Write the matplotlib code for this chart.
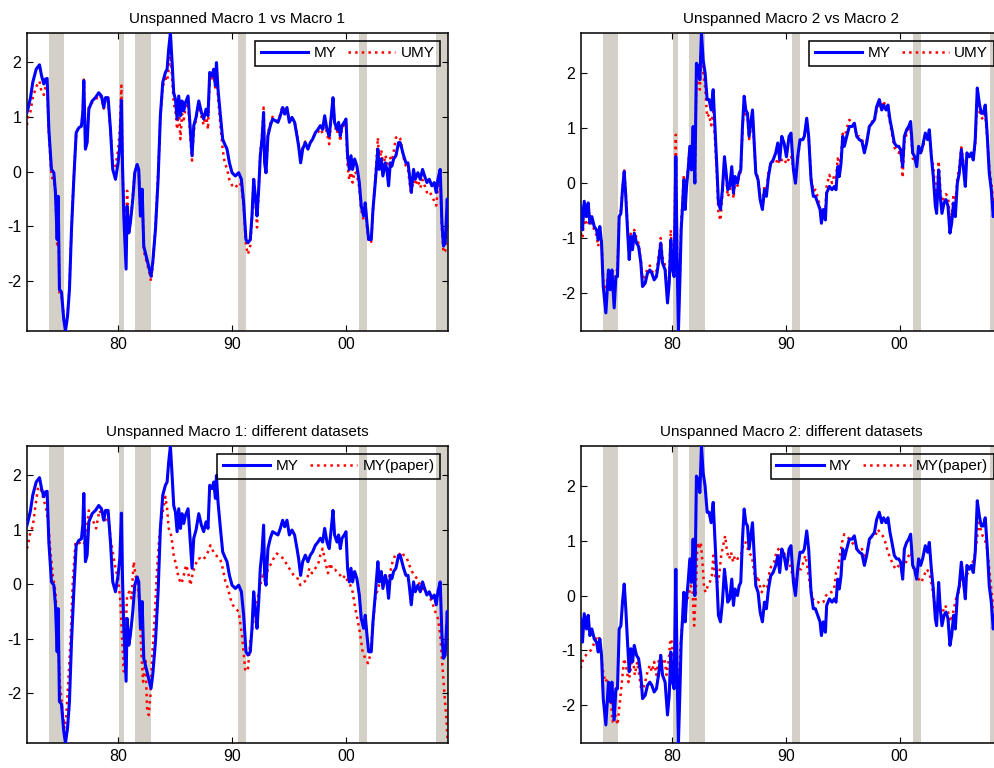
import matplotlib
matplotlib.use('Agg')
import matplotlib.pyplot as plt
from matplotlib.ticker import FuncFormatter

plt.rcParams['font.family'] = ['Liberation Sans', 'DejaVu Sans']
plt.rcParams['axes.unicode_minus'] = False

# NBER recessions (decimal years)
rec_start = [1973.92, 1980.06, 1981.52, 1990.56, 2001.17, 2007.92]
rec_end = [1975.29, 1980.56, 1982.89, 1991.26, 2001.87, 2009.50]

# ---- Macro 1 ----
t1 = [1972.00, 1972.08, 1972.31, 1972.51, 1972.81, 1973.10, 1973.28, 1973.48, 1973.63, 1973.77,
      1973.92, 1974.15, 1974.36, 1974.50, 1974.65, 1974.74, 1974.85, 1975.03, 1975.23, 1975.38,
      1975.56, 1975.73, 1975.91, 1976.11, 1976.32, 1976.55, 1976.78, 1976.90, 1976.99, 1977.13,
      1977.28, 1977.43, 1977.72, 1978.01, 1978.30, 1978.54, 1978.74, 1978.89, 1979.12, 1979.33,
      1979.53, 1979.77, 1980.00, 1980.15, 1980.29, 1980.38, 1980.50, 1980.70, 1980.79, 1980.94,
      1981.08, 1981.29, 1981.46, 1981.67, 1981.81, 1981.96, 1982.11, 1982.25, 1982.46, 1982.69,
      1982.89, 1983.04, 1983.28, 1983.51, 1983.71, 1983.92, 1984.15, 1984.30, 1984.44, 1984.59,
      1984.74, 1984.88, 1985.03, 1985.18, 1985.32, 1985.47, 1985.61, 1985.76, 1985.91, 1986.14,
      1986.35, 1986.49, 1986.64, 1986.84, 1987.08, 1987.31, 1987.51, 1987.72, 1987.89, 1988.04,
      1988.25, 1988.39, 1988.54, 1988.63, 1988.77, 1988.98, 1989.18, 1989.36, 1989.56, 1989.77,
      1990.00, 1990.29, 1990.58, 1990.82, 1991.02, 1991.22, 1991.40, 1991.60, 1991.75, 1991.90,
      1992.04, 1992.19, 1992.34, 1992.48, 1992.63, 1992.77, 1992.86, 1992.98, 1993.15, 1993.36,
      1993.56, 1993.80, 1994.03, 1994.24, 1994.44, 1994.62, 1994.82, 1995.03, 1995.26, 1995.49,
      1995.70, 1995.84, 1996.02, 1996.20, 1996.43, 1996.66, 1996.87, 1997.07, 1997.31, 1997.54,
      1997.75, 1997.95, 1998.13, 1998.33, 1998.53, 1998.71, 1998.86, 1999.00, 1999.21, 1999.35,
      1999.50, 1999.65, 1999.85, 2000.00, 2000.14, 2000.29, 2000.44, 2000.58, 2000.76, 2000.96,
      2001.17, 2001.34, 2001.55, 2001.69, 2001.84, 2001.99, 2002.22, 2002.37, 2002.57, 2002.80,
      2002.92, 2003.10, 2003.24, 2003.45, 2003.59, 2003.74, 2003.89, 2004.03, 2004.18, 2004.38,
      2004.62, 2004.76, 2004.91, 2005.06, 2005.26, 2005.44, 2005.55, 2005.73, 2005.93, 2006.08,
      2006.31, 2006.52, 2006.72, 2006.90, 2007.10, 2007.31, 2007.54, 2007.75, 2007.92, 2008.07,
      2008.27, 2008.42, 2008.56, 2008.71, 2008.89, 2008.95]

my1 = [1.08, 1.14, 1.35, 1.63, 1.87, 1.95, 1.75, 1.60, 1.69, 1.70,
       0.77, 0.04, -0.02, -0.38, -1.24, -0.45, -2.15, -2.20, -2.70, -2.91,
       -2.64, -2.15, -1.05, -0.14, 0.71, 0.80, 0.83, 1.08, 1.66, 0.41,
       0.53, 1.14, 1.29, 1.35, 1.44, 1.38, 1.17, 1.35, 1.35, 0.77,
       0.04, -0.14, 0.16, 0.47, 1.30, 0.16, -0.81, -1.78, -0.63, -1.12,
       -0.93, -0.50, -0.02, 0.13, 0.04, -0.81, -0.32, -1.36, -1.54, -1.73,
       -1.91, -1.66, -1.05, -0.14, 1.02, 1.63, 1.81, 1.87, 2.24, 2.53,
       1.99, 1.44, 1.32, 0.96, 1.38, 1.02, 1.29, 1.11, 1.26, 1.38,
       0.71, 0.29, 0.84, 0.99, 1.29, 1.08, 0.96, 1.14, 1.02, 1.81,
       1.75, 1.87, 1.57, 1.99, 1.50, 1.02, 0.59, 0.50, 0.41, 0.16,
       -0.02, -0.08, -0.02, -0.14, -0.57, -1.24, -1.30, -1.24, -0.81, -0.14,
       -0.45, -0.81, -0.32, 0.29, 0.59, 1.08, 0.16, -0.02, 0.65, 0.84,
       0.96, 0.93, 0.90, 1.02, 1.17, 1.05, 1.17, 0.90, 0.99, 0.90,
       0.65, 0.47, 0.16, 0.41, 0.53, 0.41, 0.53, 0.59, 0.71, 0.77,
       0.84, 0.77, 1.02, 0.77, 0.65, 1.02, 1.35, 0.90, 0.77, 0.90,
       0.65, 0.84, 0.90, 0.96, 0.29, 0.04, 0.29, 0.04, 0.23, 0.10,
       -0.20, -0.63, -0.81, -0.57, -0.93, -1.24, -1.24, -0.69, -0.20, 0.41,
       0.04, 0.23, -0.08, 0.16, 0.04, -0.26, 0.16, 0.10, 0.23, 0.29,
       0.53, 0.53, 0.41, 0.29, 0.16, 0.16, -0.02, -0.38, 0.04, -0.14,
       -0.02, -0.14, 0.04, -0.08, -0.20, -0.14, -0.26, -0.20, -0.38, -0.14,
       0.04, -0.93, -1.36, -1.30, -0.50, -0.90]

umy1 = [0.85, 1.00, 1.10, 1.35, 1.55, 1.65, 1.45, 1.40, 1.55, 1.60,
        0.70, -0.10, -0.15, -0.40, -1.33, -0.50, -2.21, -2.25, -2.67, -2.88,
        -2.64, -2.10, -1.00, -0.10, 0.70, 0.82, 0.85, 1.05, 1.68, 0.45,
        0.55, 1.20, 1.26, 1.30, 1.40, 1.35, 1.15, 1.30, 1.33, 0.75,
        0.15, 0.10, 0.40, 0.75, 1.57, 0.10, -0.65, -0.95, -0.35, -1.05,
        -0.90, -0.45, 0.00, 0.10, 0.02, -0.85, -0.35, -1.45, -1.62, -1.80,
        -2.00, -1.70, -1.00, -0.05, 1.00, 1.55, 1.70, 1.65, 1.87, 2.18,
        1.70, 1.25, 1.10, 0.77, 1.20, 0.59, 1.05, 0.95, 1.15, 1.25,
        0.60, 0.20, 0.75, 0.95, 1.25, 1.00, 0.85, 1.05, 0.77, 1.75,
        1.70, 1.80, 1.50, 1.80, 1.35, 0.85, 0.40, 0.16, 0.05, -0.15,
        -0.25, -0.30, -0.20, -0.25, -0.65, -1.35, -1.51, -1.35, -0.85, -0.10,
        -0.50, -1.02, -0.30, 0.35, 0.65, 1.17, 0.20, -0.05, 0.70, 0.88,
        1.00, 0.95, 0.92, 1.05, 1.20, 1.08, 1.15, 0.92, 0.98, 0.92,
        0.68, 0.50, 0.22, 0.45, 0.55, 0.45, 0.52, 0.60, 0.70, 0.72,
        0.78, 0.70, 0.95, 0.70, 0.50, 0.95, 1.30, 0.85, 0.70, 0.85,
        0.55, 0.80, 0.85, 0.90, 0.10, -0.15, 0.05, -0.20, 0.00, -0.05,
        -0.30, -0.70, -0.88, -0.65, -1.00, -1.30, -1.28, -0.70, -0.15, 0.62,
        0.15, 0.40, 0.05, 0.30, 0.20, -0.10, 0.25, 0.20, 0.35, 0.62,
        0.65, 0.60, 0.45, 0.25, 0.10, 0.05, -0.15, -0.42, -0.10, -0.25,
        -0.15, -0.30, -0.15, -0.25, -0.38, -0.35, -0.45, -0.54, -0.62, -0.30,
        -0.05, -1.05, -1.48, -1.45, -0.70, -1.05]

tp1 = [1972.00, 1972.08, 1972.31, 1972.51, 1972.75, 1972.98, 1973.19, 1973.48, 1973.68, 1973.86,
       1974.06, 1974.27, 1974.50, 1974.71, 1974.88, 1975.09, 1975.29, 1975.44, 1975.61, 1975.82,
       1976.02, 1976.26, 1976.55, 1976.84, 1977.13, 1977.43, 1977.72, 1978.07, 1978.36, 1978.60,
       1978.83, 1979.12, 1979.33, 1979.53, 1979.77, 1980.00, 1980.20, 1980.35, 1980.50, 1980.64,
       1980.79, 1980.99, 1981.17, 1981.37, 1981.52, 1981.67, 1981.87, 1982.05, 1982.19, 1982.40,
       1982.54, 1982.69, 1982.84, 1982.98, 1983.22, 1983.42, 1983.63, 1983.86, 1984.15, 1984.30,
       1984.44, 1984.59, 1984.74, 1984.88, 1985.09, 1985.32, 1985.56, 1985.76, 1985.97, 1986.14,
       1986.35, 1986.55, 1986.78, 1987.02, 1987.22, 1987.43, 1987.66, 1987.89, 1988.10, 1988.30,
       1988.54, 1988.77, 1988.98, 1989.18, 1989.42, 1989.65, 1989.85, 1990.06, 1990.29, 1990.58,
       1990.87, 1991.17, 1991.40, 1991.60, 1991.90, 1992.19, 1992.48, 1992.69, 1992.92, 1993.15,
       1993.36, 1993.65, 1993.94, 1994.24, 1994.53, 1994.82, 1995.11, 1995.41, 1995.70, 1995.99,
       1996.28, 1996.58, 1996.78, 1997.01, 1997.31, 1997.54, 1997.75, 1997.95, 1998.18, 1998.42,
       1998.62, 1998.83, 1999.06, 1999.30, 1999.50, 1999.70, 1999.94, 2000.17, 2000.38, 2000.58,
       2000.82, 2001.05, 2001.25, 2001.46, 2001.69, 2001.93, 2002.13, 2002.34, 2002.57, 2002.80,
       2003.01, 2003.21, 2003.45, 2003.68, 2003.89, 2004.09, 2004.32, 2004.62, 2004.91, 2005.14,
       2005.35, 2005.55, 2005.79, 2006.02, 2006.23, 2006.52, 2006.72, 2006.96, 2007.25, 2007.54,
       2007.83, 2008.07, 2008.27, 2008.48, 2008.65, 2008.83, 2008.95]

myp1 = [0.65, 0.71, 0.96, 1.05, 1.44, 1.78, 1.75, 1.54, 1.38, 1.14,
        0.59, 0.16, -0.14, -0.93, -1.79, -2.27, -2.64, -2.46, -1.85, -1.05,
        0.04, 0.77, 0.77, 0.71, 0.77, 1.35, 1.20, 1.02, 1.35, 1.26,
        1.14, 1.29, 0.84, 0.59, 0.29, 0.10, -0.32, -0.99, -1.60, -0.93,
        -0.20, -0.14, -0.26, 0.41, 0.16, 0.04, -0.32, -1.30, -1.79, -1.36,
        -2.27, -2.40, -2.03, -1.36, -0.57, 0.29, 0.90, 1.26, 1.60, 1.38,
        1.02, 0.96, 0.77, 0.53, 0.35, 0.10, 0.01, 0.16, 0.35, 0.23,
        -0.02, 0.20, 0.35, 0.47, 0.47, 0.44, 0.50, 0.59, 0.71, 0.62,
        0.53, 0.50, 0.44, 0.29, 0.04, -0.08, -0.26, -0.38, -0.45, -0.50,
        -0.93, -1.60, -1.54, -1.05, -0.63, -0.32, -0.02, 0.16, 0.04, 0.29,
        0.35, 0.47, 0.56, 0.50, 0.47, 0.35, 0.26, 0.16, 0.13, -0.02,
        0.04, 0.07, 0.29, 0.20, 0.29, 0.35, 0.53, 0.65, 0.41, 0.20,
        0.38, 0.26, 0.26, 0.20, 0.16, 0.10, 0.16, 0.04, -0.02, -0.14,
        -0.45, -0.69, -0.93, -1.24, -1.36, -1.45, -1.30, -0.81, -0.26, -0.08,
        0.04, 0.04, 0.16, 0.04, 0.23, 0.41, 0.53, 0.53, 0.59, 0.50,
        0.47, 0.35, 0.23, 0.16, 0.10, -0.02, -0.08, -0.14, -0.20, -0.32,
        -0.50, -0.63, -0.93, -1.54, -2.03, -2.52, -3.00]

# ---- Macro 2 ----
t2 = [1972.00, 1972.16, 1972.31, 1972.51, 1972.66, 1972.81, 1972.98, 1973.19, 1973.39, 1973.54,
      1973.68, 1973.83, 1973.98, 1974.21, 1974.44, 1974.59, 1974.74, 1974.94, 1975.09, 1975.23,
      1975.38, 1975.53, 1975.67, 1975.82, 1975.96, 1976.11, 1976.26, 1976.40, 1976.55, 1976.70,
      1976.90, 1977.08, 1977.28, 1977.43, 1977.66, 1977.86, 1978.07, 1978.25, 1978.45, 1978.65,
      1978.83, 1979.03, 1979.18, 1979.41, 1979.62, 1979.77, 1979.91, 1980.06, 1980.20, 1980.35,
      1980.47, 1980.58, 1980.70, 1980.82, 1980.94, 1981.05, 1981.17, 1981.29, 1981.43, 1981.58,
      1981.72, 1981.87, 1982.02, 1982.16, 1982.31, 1982.46, 1982.60, 1982.75, 1982.92, 1983.10,
      1983.27, 1983.45, 1983.63, 1983.77, 1983.95, 1984.09, 1984.27, 1984.44, 1984.62, 1984.77,
      1984.91, 1985.09, 1985.26, 1985.41, 1985.55, 1985.76, 1985.91, 1986.05, 1986.20, 1986.35,
      1986.49, 1986.64, 1986.78, 1986.93, 1987.08, 1987.22, 1987.37, 1987.57, 1987.75, 1987.95,
      1988.13, 1988.30, 1988.48, 1988.68, 1988.89, 1989.12, 1989.30, 1989.47, 1989.65, 1989.85,
      1990.06, 1990.29, 1990.46, 1990.67, 1990.85, 1991.05, 1991.25, 1991.49, 1991.63, 1991.84,
      1992.01, 1992.22, 1992.42, 1992.60, 1992.80, 1993.01, 1993.13, 1993.30, 1993.48, 1993.59,
      1993.83, 1994.06, 1994.27, 1994.41, 1994.56, 1994.70, 1994.85, 1995.00, 1995.14, 1995.35,
      1995.58, 1995.82, 1996.02, 1996.23, 1996.46, 1996.69, 1996.90, 1997.10, 1997.34, 1997.57,
      1997.78, 1997.98, 1998.21, 1998.42, 1998.59, 1998.80, 1998.97, 1999.15, 1999.32, 1999.53,
      1999.73, 1999.91, 2000.08, 2000.26, 2000.41, 2000.61, 2000.79, 2000.96, 2001.14, 2001.31,
      2001.49, 2001.66, 2001.84, 2002.01, 2002.25, 2002.45, 2002.60, 2002.78, 2002.95, 2003.13,
      2003.24, 2003.42, 2003.56, 2003.71, 2003.89, 2004.06, 2004.24, 2004.41, 2004.56, 2004.73,
      2004.88, 2005.06, 2005.23, 2005.41, 2005.58, 2005.76, 2005.90, 2006.11, 2006.28, 2006.46,
      2006.63, 2006.81, 2006.99, 2007.16, 2007.34, 2007.51, 2007.69, 2007.86, 2008.04, 2008.21,
      2008.35, 2008.60, 2008.95]

my2 = [-0.42, -0.85, -0.33, -0.61, -0.36, -0.73, -0.61, -0.79, -0.85, -1.03,
       -0.79, -1.09, -1.88, -2.36, -1.58, -1.94, -1.58, -2.27, -1.70, -1.70,
       -0.61, -0.55, -0.12, 0.21, -0.24, -0.85, -1.39, -0.97, -1.21, -0.91,
       -1.09, -1.15, -1.45, -1.88, -1.82, -1.64, -1.58, -1.64, -1.76, -1.70,
       -1.45, -1.09, -1.45, -1.58, -2.18, -1.82, -1.03, -1.58, -1.70, 0.48,
       -1.45, -2.69, -1.82, -0.85, -0.42, 0.06, -0.48, -0.06, 0.24, 0.67,
       0.24, 1.03, 0.00, 2.18, 2.12, 1.88, 2.73, 2.24, 2.00, 1.52,
       1.52, 1.33, 1.70, 1.09, 0.30, -0.36, -0.48, -0.12, 0.48, 0.18,
       -0.12, -0.06, 0.30, -0.18, 0.12, 0.00, 0.18, 0.24, 1.03, 1.58,
       1.33, 1.27, 0.85, 1.09, 1.33, 0.79, 0.18, 0.06, -0.30, -0.48,
       -0.12, -0.24, 0.12, 0.36, 0.42, 0.55, 0.73, 0.42, 0.85, 0.73,
       0.48, 0.85, 0.91, 0.25, 0.00, 0.48, 0.79, 0.79, 0.85, 1.18,
       0.85, 0.06, -0.24, -0.24, -0.36, -0.48, -0.73, -0.48, -0.67, -0.18,
       -0.06, -0.12, -0.06, -0.12, 0.30, 0.12, 0.36, 0.85, 0.67, 0.85,
       1.03, 1.03, 1.09, 0.85, 0.79, 0.76, 0.55, 0.73, 1.03, 1.09,
       1.15, 1.39, 1.52, 1.33, 1.42, 1.33, 1.42, 1.15, 0.97, 0.73,
       0.67, 0.67, 0.61, 0.30, 0.85, 0.97, 1.03, 1.12, 0.55, 0.48,
       0.30, 0.67, 0.55, 0.67, 0.91, 0.79, 0.97, 0.48, 0.12, -0.42,
       -0.55, 0.24, -0.24, -0.55, -0.36, -0.30, -0.42, -0.91, -0.73, -0.36,
       -0.61, 0.00, 0.18, 0.61, 0.30, -0.06, 0.55, 0.48, 0.55, 0.42,
       0.79, 1.73, 1.45, 1.27, 1.27, 1.42, 0.85, 0.18, -0.12, -0.61,
       -0.35, -1.00, -0.80]

umy2 = [-0.90, -1.00, -0.60, -0.75, -0.70, -0.78, -0.72, -0.85, -0.95, -1.15,
        -0.85, -1.05, -1.80, -1.95, -1.60, -1.75, -1.60, -1.95, -1.65, -1.55,
        -0.55, -0.50, -0.10, 0.23, -0.20, -0.80, -1.30, -0.90, -1.10, -0.85,
        -1.00, -1.10, -1.40, -1.75, -1.70, -1.55, -1.50, -1.60, -1.65, -1.60,
        -1.35, -1.00, -1.35, -1.50, -2.05, -1.70, -0.85, -1.45, -1.50, 0.88,
        -1.30, -2.40, -1.75, -0.70, -0.35, 0.15, -0.40, 0.00, 0.30, 0.65,
        0.25, 0.95, 0.00, 1.95, 1.80, 1.70, 2.45, 2.00, 1.75, 1.20,
        1.25, 1.05, 1.30, 0.85, 0.20, -0.55, -0.68, -0.20, 0.45, 0.10,
        -0.25, -0.15, 0.25, -0.28, 0.05, -0.05, 0.15, 0.20, 0.95, 1.50,
        1.25, 1.20, 0.80, 1.00, 1.25, 0.75, 0.20, 0.10, -0.25, -0.40,
        -0.05, -0.15, 0.20, 0.35, 0.40, 0.35, 0.45, 0.35, 0.42, 0.45,
        0.35, 0.45, 0.50, 0.30, 0.00, 0.45, 0.75, 0.78, 0.85, 1.15,
        0.85, 0.10, -0.15, -0.12, -0.25, -0.45, -0.60, -0.45, -0.45, -0.05,
        0.15, 0.00, 0.15, 0.10, 0.45, 0.30, 0.50, 0.90, 0.80, 1.00,
        1.15, 1.10, 1.05, 0.85, 0.85, 0.80, 0.60, 0.75, 1.05, 1.12,
        1.10, 1.35, 1.45, 1.35, 1.50, 1.35, 1.30, 1.10, 0.90, 0.65,
        0.60, 0.55, 0.60, 0.10, 0.75, 0.90, 0.98, 1.00, 0.45, 0.42,
        0.35, 0.60, 0.55, 0.62, 0.85, 0.80, 0.95, 0.50, 0.30, -0.15,
        -0.25, 0.40, -0.10, -0.40, -0.25, -0.20, -0.25, -0.65, -0.55, -0.20,
        -0.40, 0.10, 0.30, 0.65, 0.40, 0.15, 0.50, 0.45, 0.50, 0.45,
        0.70, 1.55, 1.30, 1.20, 1.15, 1.25, 0.80, 0.30, 0.00, -0.30,
        -0.25, -0.90, -0.70]

tp2 = [1972.00, 1972.22, 1972.45, 1972.69, 1972.89, 1973.10, 1973.33, 1973.54, 1973.71, 1973.92,
       1974.15, 1974.36, 1974.56, 1974.79, 1975.03, 1975.23, 1975.44, 1975.61, 1975.82, 1976.02,
       1976.20, 1976.40, 1976.55, 1976.75, 1976.96, 1977.13, 1977.31, 1977.48, 1977.66, 1977.86,
       1978.07, 1978.25, 1978.45, 1978.65, 1978.83, 1979.00, 1979.18, 1979.36, 1979.53, 1979.71,
       1979.88, 1980.00, 1980.15, 1980.29, 1980.41, 1980.53, 1980.64, 1980.79, 1980.94, 1981.11,
       1981.29, 1981.46, 1981.67, 1981.81, 1981.96, 1982.11, 1982.25, 1982.40, 1982.54, 1982.69,
       1982.84, 1982.98, 1983.16, 1983.33, 1983.51, 1983.65, 1983.80, 1983.98, 1984.15, 1984.33,
       1984.50, 1984.68, 1984.85, 1985.03, 1985.20, 1985.38, 1985.55, 1985.76, 1985.96, 1986.14,
       1986.31, 1986.49, 1986.67, 1986.84, 1987.02, 1987.19, 1987.37, 1987.54, 1987.72, 1987.89,
       1988.07, 1988.25, 1988.42, 1988.60, 1988.77, 1988.98, 1989.18, 1989.36, 1989.56, 1989.77,
       1990.00, 1990.17, 1990.38, 1990.61, 1990.85, 1991.08, 1991.34, 1991.55, 1991.72, 1991.93,
       1992.13, 1992.37, 1992.60, 1992.83, 1993.07, 1993.30, 1993.53, 1993.77, 1994.00, 1994.24,
       1994.41, 1994.59, 1994.76, 1994.94, 1995.14, 1995.35, 1995.58, 1995.82, 1996.02, 1996.23,
       1996.46, 1996.69, 1996.93, 1997.16, 1997.39, 1997.63, 1997.86, 1998.07, 1998.27, 1998.51,
       1998.74, 1998.97, 1999.21, 1999.44, 1999.68, 1999.91, 2000.11, 2000.32, 2000.55, 2000.79,
       2000.99, 2001.20, 2001.43, 2001.66, 2001.90, 2002.13, 2002.36, 2002.60, 2002.83, 2003.07,
       2003.30, 2003.53, 2003.77, 2004.00, 2004.24, 2004.47, 2004.70, 2004.94, 2005.17, 2005.41,
       2005.64, 2005.87, 2006.11, 2006.34, 2006.58, 2006.75, 2006.93, 2007.10, 2007.28, 2007.45,
       2007.63, 2007.80, 2007.98, 2008.15, 2008.33, 2008.60, 2008.95]

myp2 = [-1.33, -1.15, -1.09, -1.03, -1.00, -0.91, -0.79, -0.73, -0.85, -1.33,
        -1.58, -1.52, -1.64, -2.30, -2.18, -2.36, -1.94, -1.58, -1.15, -1.33,
        -1.58, -1.33, -1.09, -1.45, -1.21, -1.45, -1.70, -1.70, -1.58, -1.39,
        -1.27, -1.39, -1.21, -1.45, -1.21, -1.09, -1.21, -1.15, -1.45, -1.21,
        -0.79, -0.85, -1.33, -1.45, -1.58, -1.88, -1.45, -0.85, -0.42, -0.24,
        -0.12, 0.00, 0.18, 0.12, -0.55, 0.06, 0.97, 0.85, 0.97, 0.61,
        0.12, 0.06, 0.18, 0.24, 0.36, 0.73, 0.36, 0.24, 0.36, 0.73,
        0.91, 1.09, 0.79, 0.67, 0.79, 0.61, 0.73, 0.67, 0.70, 0.79,
        0.97, 0.97, 0.85, 0.76, 0.73, 0.48, 0.24, 0.36, 0.18, 0.06,
        0.18, 0.12, 0.18, 0.48, 0.55, 0.61, 0.79, 0.85, 0.73, 0.79,
        0.73, 0.67, 0.55, 0.36, 0.24, 0.48, 0.48, 0.61, 0.73, 0.48,
        0.18, -0.06, -0.12, -0.12, -0.15, -0.12, 0.00, 0.06, 0.06, 0.12,
        0.42, 0.48, 0.73, 0.97, 1.12, 1.09, 1.03, 0.97, 0.91, 0.85,
        0.82, 0.85, 0.67, 0.79, 1.03, 1.09, 1.09, 1.21, 1.15, 1.09,
        0.97, 0.79, 0.67, 0.55, 0.48, 0.55, 0.61, 0.55, 0.61, 0.73,
        0.79, 0.48, 0.36, 0.30, 0.24, 0.36, 0.48, 0.42, 0.18, -0.12,
        -0.30, -0.24, -0.30, -0.18, -0.30, -0.48, -0.30, -0.06, 0.06, 0.36,
        0.18, 0.36, 0.48, 0.55, 0.73, 0.97, 1.33, 1.21, 1.09, 1.03,
        0.91, 0.61, 0.24, -0.12, -0.30, -0.60, -0.50]

year_ticks = [1980, 1990, 2000]
val_ticks = [-2, -1, 0, 1, 2]


def draw_panel(ax, t_my, my, t_other, other, other_label, title):
    for a, b in zip(rec_start, rec_end):
        ax.axvspan(a, b, color='#d4d0c8', lw=0, zorder=0)
    red, = ax.plot(t_other, other, ':', color='red', lw=1.8, zorder=2)
    blue, = ax.plot(t_my, my, '-', color='blue', lw=2.2, zorder=3)
    ax.set_xlim(t_my[0], t_my[-1])
    ax.set_ylim(min(my), max(my))
    ax.set_xticks(year_ticks)
    ax.xaxis.set_major_formatter(FuncFormatter(lambda x, _: '%02d' % (int(round(x)) % 100)))
    ax.set_yticks(val_ticks)
    ax.tick_params(direction='in', top=True, right=True, length=4, width=0.8,
                   labelsize=11.5, pad=4)
    for s in ax.spines.values():
        s.set_linewidth(1.1)
    leg = ax.legend([blue, red], ['MY', other_label], loc='upper right', ncol=2,
                    fancybox=False, edgecolor='black', facecolor='none', framealpha=1,
                    fontsize=11, handlelength=3.1, handletextpad=0.35,
                    columnspacing=0.75, borderpad=0.38, borderaxespad=0.5)
    leg.get_frame().set_linewidth(1.1)
    ax.set_title(title, fontsize=11, pad=7)


fig = plt.figure(figsize=(9.95, 7.68), dpi=100)
ax1 = fig.add_axes([0.0271, 0.569, 0.4231, 0.388])
ax2 = fig.add_axes([0.5836, 0.569, 0.4231, 0.388])
ax3 = fig.add_axes([0.0271, 0.0326, 0.4231, 0.3867])
ax4 = fig.add_axes([0.5836, 0.0326, 0.4231, 0.3867])

draw_panel(ax1, t1, my1, t1, umy1, 'UMY', 'Unspanned Macro 1 vs Macro 1')
draw_panel(ax2, t2, my2, t2, umy2, 'UMY', 'Unspanned Macro 2 vs Macro 2')
draw_panel(ax3, t1, my1, tp1, myp1, 'MY(paper)', 'Unspanned Macro 1: different datasets')
draw_panel(ax4, t2, my2, tp2, myp2, 'MY(paper)', 'Unspanned Macro 2: different datasets')

fig.savefig('out.png', dpi=100)
plt.close(fig)
